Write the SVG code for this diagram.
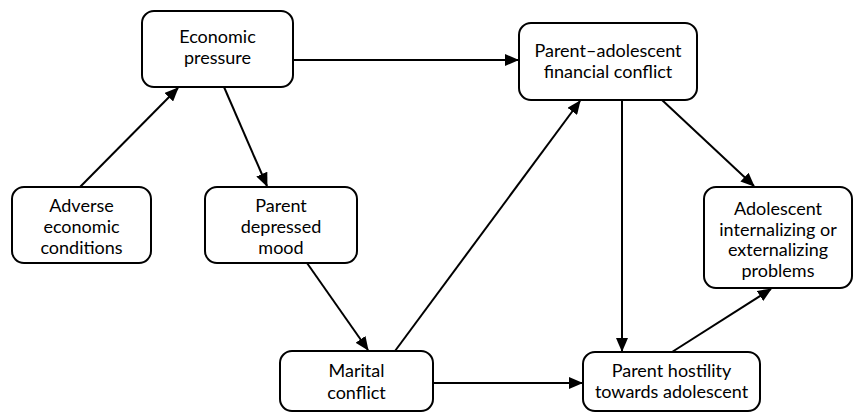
<svg xmlns="http://www.w3.org/2000/svg" width="857" height="412" viewBox="0 0 857 412">
<style>
.box{fill:#fff;stroke:#000;stroke-width:2}
.t{font-family:Lato,"Open Sans",sans-serif;font-size:18px;fill:#000;text-anchor:middle}
.c{stroke:#000;stroke-width:2;fill:none;marker-end:url(#ah)}
</style>
<defs>
<marker id="ah" viewBox="0 0 14 12" refX="13" refY="6" markerWidth="14" markerHeight="12" markerUnits="userSpaceOnUse" orient="auto">
<path d="M0,0 L14,6 L0,12 Z" fill="#000"/>
</marker>
</defs>
<rect width="857" height="412" fill="#fff"/>
<g id="connectors">
<line class="c" x1="293" y1="60" x2="518" y2="60"/>
<line class="c" x1="80" y1="187" x2="178" y2="88"/>
<line class="c" x1="224" y1="87" x2="267" y2="186"/>
<line class="c" x1="307" y1="263" x2="368" y2="350"/>
<line class="c" x1="395" y1="351" x2="580" y2="101"/>
<line class="c" x1="622" y1="100" x2="622" y2="351"/>
<line class="c" x1="662" y1="100" x2="754" y2="186"/>
<line class="c" x1="672" y1="352" x2="771" y2="289"/>
<line class="c" x1="433" y1="383" x2="582" y2="383"/>
</g>
<g id="economic-pressure">
<rect class="box" x="142" y="11" width="151" height="76" rx="12"/>
<text class="t" x="217.5" y="43">Economic</text>
<text class="t" x="217.5" y="64">pressure</text>
</g>
<g id="parent-adolescent-conflict">
<rect class="box" x="519" y="23" width="178" height="77" rx="12"/>
<text class="t" x="608" y="57">Parent–adolescent</text>
<text class="t" x="608" y="78">financial conflict</text>
</g>
<g id="adverse-conditions">
<rect class="box" x="12" y="187" width="139" height="76" rx="12"/>
<text class="t" x="81.5" y="212">Adverse</text>
<text class="t" x="81.5" y="233">economic</text>
<text class="t" x="81.5" y="254">conditions</text>
</g>
<g id="parent-depressed-mood">
<rect class="box" x="205" y="187" width="152" height="76" rx="12"/>
<text class="t" x="281" y="212">Parent</text>
<text class="t" x="281" y="233">depressed</text>
<text class="t" x="281" y="254">mood</text>
</g>
<g id="adolescent-problems">
<rect class="box" x="704" y="187" width="148" height="101" rx="12"/>
<text class="t" x="778" y="215">Adolescent</text>
<text class="t" x="778" y="236">internalizing or</text>
<text class="t" x="778" y="256">externalizing</text>
<text class="t" x="778" y="277">problems</text>
</g>
<g id="marital-conflict">
<rect class="box" x="280" y="351" width="153" height="60" rx="12"/>
<text class="t" x="356.5" y="377">Marital</text>
<text class="t" x="356.5" y="399">conflict</text>
</g>
<g id="parent-hostility">
<rect class="box" x="583" y="352" width="177" height="59" rx="12"/>
<text class="t" x="671.5" y="377">Parent hostility</text>
<text class="t" x="671.5" y="398">towards adolescent</text>
</g>
</svg>
